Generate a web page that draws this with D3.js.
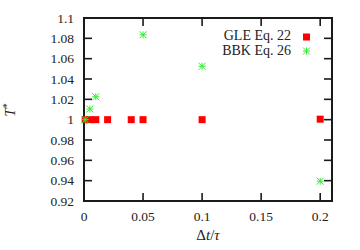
<!DOCTYPE html>
<html>
<head>
<meta charset="utf-8">
<script src="https://cdn.jsdelivr.net/npm/d3@7"></script>
<style>
  body { margin: 0; background: #fff; }
  text { font-family: "Liberation Serif", "DejaVu Serif", serif; fill: #222; }
</style>
</head>
<body>
<div id="chart"></div>
<script>
// data
var gleDt = [0.001, 0.005, 0.01, 0.02, 0.04, 0.05, 0.1, 0.2];
var gleT = [1.0, 1.0, 1.0, 1.0, 1.0, 1.0, 1.0, 1.0005];
var bbkDt = [0.001, 0.005, 0.01, 0.05, 0.1, 0.2];
var bbkT = [1.0, 1.0105, 1.0225, 1.0835, 1.0525, 0.9395];
var xTicks = [0, 0.05, 0.1, 0.15, 0.2];
var yTicks = [0.92, 0.94, 0.96, 0.98, 1, 1.02, 1.04, 1.06, 1.08, 1.1];

var svgWidth = 360;
var svgHeight = 250;
var margin = { top: 18, right: 28, bottom: 49, left: 84 };
var width = svgWidth - margin.left - margin.right;
var height = svgHeight - margin.top - margin.bottom;

var svg = d3.select("#chart").append("svg").attr("width", svgWidth).attr("height", svgHeight);
var chartGroup = svg.append("g").attr("transform", `translate(${margin.left}, ${margin.top})`);

var xScale = d3.scaleLinear().domain([0, 0.21]).range([0, width]);
var yScale = d3.scaleLinear().domain([0.92, 1.1]).range([height, 0]);

var tickLen = 8;
var fmt = d => String(+d.toFixed(2));

// ticks on all four sides, pointing inward
var ticks = chartGroup.append("g").attr("stroke", "#1a1a1a").attr("stroke-width", 1.6);
xTicks.forEach(function(t) {
    ticks.append("line").attr("x1", xScale(t)).attr("x2", xScale(t)).attr("y1", height).attr("y2", height - tickLen);
    ticks.append("line").attr("x1", xScale(t)).attr("x2", xScale(t)).attr("y1", 0).attr("y2", tickLen);
});
yTicks.forEach(function(t) {
    ticks.append("line").attr("x1", 0).attr("x2", tickLen).attr("y1", yScale(t)).attr("y2", yScale(t));
    ticks.append("line").attr("x1", width).attr("x2", width - tickLen).attr("y1", yScale(t)).attr("y2", yScale(t));
});

// tick labels
chartGroup.selectAll(".xlab").data(xTicks).enter().append("text")
    .attr("x", d => xScale(d))
    .attr("y", height + 20)
    .attr("text-anchor", "middle")
    .attr("font-size", "13.5px")
    .text(fmt);

chartGroup.selectAll(".ylab").data(yTicks).enter().append("text")
    .attr("x", -10)
    .attr("y", d => yScale(d) + 4.5)
    .attr("text-anchor", "end")
    .attr("font-size", "13.5px")
    .text(fmt);

// frame
chartGroup.append("rect")
    .attr("width", width).attr("height", height)
    .attr("fill", "none").attr("stroke", "#1a1a1a").attr("stroke-width", 2);

// GLE squares
var gle = gleDt.map((d, i) => ({ x: d, y: gleT[i] }));
chartGroup.selectAll(".gle").data(gle).enter().append("rect")
    .attr("x", d => xScale(d.x) - 3.5)
    .attr("y", d => yScale(d.y) - 3.5)
    .attr("width", 7).attr("height", 7)
    .attr("fill", "#ff0000");

// BBK stars
function star(g, cx, cy) {
    var s = 3.5;
    var p = g.append("g").attr("stroke", "#33ee33").attr("stroke-width", 1);
    p.append("line").attr("x1", cx - s).attr("x2", cx + s).attr("y1", cy).attr("y2", cy);
    p.append("line").attr("x1", cx).attr("x2", cx).attr("y1", cy - s).attr("y2", cy + s);
    p.append("line").attr("x1", cx - s).attr("x2", cx + s).attr("y1", cy - s).attr("y2", cy + s);
    p.append("line").attr("x1", cx - s).attr("x2", cx + s).attr("y1", cy + s).attr("y2", cy - s);
}
bbkDt.forEach(function(d, i) {
    star(chartGroup, xScale(d), yScale(bbkT[i]));
});

// legend
var legend = svg.append("g");
legend.append("text").attr("x", 291).attr("y", 40).attr("text-anchor", "end").attr("font-size", "14px").text("GLE Eq. 22");
legend.append("rect").attr("x", 303).attr("y", 33.5).attr("width", 7).attr("height", 7).attr("fill", "#ff0000");
legend.append("text").attr("x", 291).attr("y", 55).attr("text-anchor", "end").attr("font-size", "14px").text("BBK Eq. 26");
star(legend, 306.5, 51);

// axis titles
svg.append("text")
    .attr("x", 208).attr("y", 240)
    .attr("text-anchor", "middle")
    .attr("font-size", "15px")
    .html('Δ<tspan font-style="italic">t</tspan>/<tspan font-style="italic">τ</tspan>');

svg.append("text")
    .attr("transform", "translate(15, 110) rotate(-90)")
    .attr("text-anchor", "middle")
    .attr("font-size", "15px")
    .html('<tspan font-style="italic">T</tspan><tspan dy="-5" font-size="10px">*</tspan>');
</script>
</body>
</html>
